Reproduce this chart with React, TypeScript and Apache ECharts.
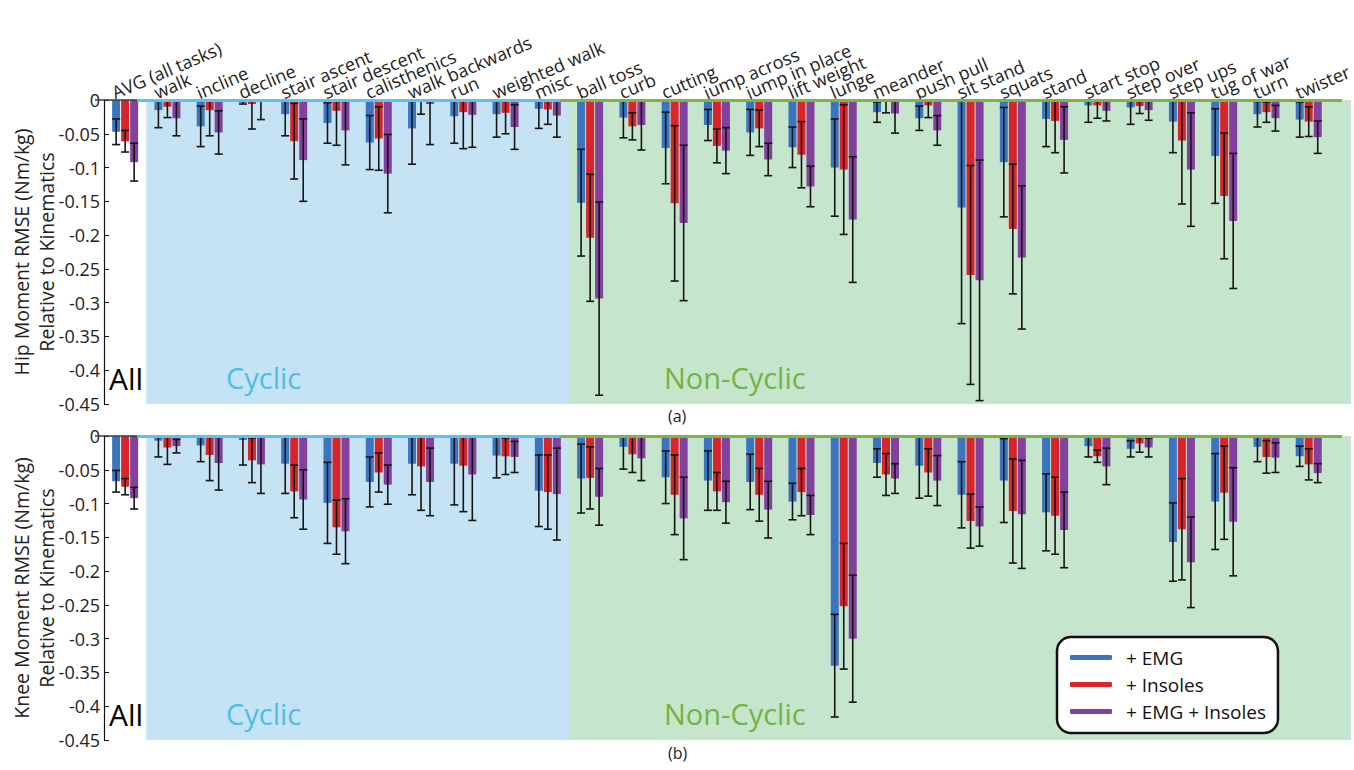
import React, { useEffect, useRef } from "react";
import * as echarts from "echarts";

const categories = [
  "AVG (all tasks)", "walk", "incline", "decline", "stair ascent", "stair descent",
  "calisthenics", "walk backwards", "run", "weighted walk", "misc",
  "ball toss", "curb", "cutting", "jump across", "jump in place", "lift weight",
  "lunge", "meander", "push pull", "sit stand", "squats", "stand", "start stop",
  "step over", "step ups", "tug of war", "turn", "twister",
];

const seriesNames = ["+ EMG", "+ Insoles", "+ EMG + Insoles"];

// Hip panel (a)
const hipEmgMean = [-0.047, -0.015, -0.039, -0.004, -0.021, -0.034, -0.063, -0.042, -0.024, -0.021, -0.013, -0.152, -0.026, -0.071, -0.037, -0.048, -0.070, -0.100, -0.018, -0.027, -0.159, -0.092, -0.028, -0.008, -0.011, -0.032, -0.083, -0.021, -0.029];
const hipEmgSd = [0.019, 0.026, 0.030, 0.002, 0.032, 0.030, 0.040, 0.053, 0.040, 0.034, 0.029, 0.079, 0.030, 0.053, 0.023, 0.034, 0.030, 0.072, 0.015, 0.018, 0.172, 0.081, 0.041, 0.025, 0.025, 0.046, 0.070, 0.019, 0.026];
const hipInsMean = [-0.061, -0.010, -0.015, -0.006, -0.061, -0.016, -0.057, -0.002, -0.018, -0.019, -0.014, -0.204, -0.039, -0.153, -0.068, -0.042, -0.081, -0.103, -0.002, -0.008, -0.259, -0.191, -0.031, -0.008, -0.009, -0.060, -0.142, -0.018, -0.032];
const hipInsSd = [0.016, 0.016, 0.038, 0.037, 0.056, 0.051, 0.047, 0.019, 0.054, 0.031, 0.022, 0.094, 0.020, 0.115, 0.025, 0.027, 0.049, 0.096, 0.017, 0.018, 0.162, 0.096, 0.047, 0.019, 0.011, 0.094, 0.093, 0.015, 0.022];
const hipBothMean = [-0.092, -0.027, -0.048, -0.001, -0.089, -0.045, -0.109, -0.006, -0.022, -0.040, -0.023, -0.294, -0.037, -0.182, -0.075, -0.088, -0.128, -0.177, -0.020, -0.045, -0.267, -0.233, -0.059, -0.016, -0.015, -0.103, -0.179, -0.027, -0.055];
const hipBothSd = [0.028, 0.026, 0.032, 0.028, 0.061, 0.051, 0.058, 0.060, 0.048, 0.033, 0.032, 0.143, 0.037, 0.115, 0.034, 0.024, 0.030, 0.093, 0.029, 0.022, 0.178, 0.106, 0.049, 0.015, 0.015, 0.084, 0.100, 0.019, 0.024];

// Knee panel (b)
const kneeEmgMean = [-0.067, -0.007, -0.014, -0.006, -0.041, -0.099, -0.068, -0.041, -0.041, -0.029, -0.081, -0.063, -0.016, -0.061, -0.066, -0.068, -0.097, -0.340, -0.040, -0.044, -0.087, -0.066, -0.113, -0.015, -0.019, -0.157, -0.097, -0.016, -0.030];
const kneeEmgSd = [0.016, 0.024, 0.024, 0.037, 0.044, 0.060, 0.037, 0.046, 0.061, 0.033, 0.053, 0.051, 0.033, 0.039, 0.044, 0.041, 0.027, 0.076, 0.021, 0.048, 0.049, 0.062, 0.057, 0.016, 0.012, 0.058, 0.071, 0.022, 0.015];
const kneeInsMean = [-0.075, -0.017, -0.028, -0.036, -0.082, -0.135, -0.054, -0.045, -0.044, -0.030, -0.083, -0.062, -0.027, -0.087, -0.082, -0.087, -0.083, -0.252, -0.057, -0.054, -0.126, -0.111, -0.118, -0.030, -0.011, -0.138, -0.084, -0.031, -0.042];
const kneeInsSd = [0.012, 0.025, 0.038, 0.033, 0.039, 0.040, 0.029, 0.065, 0.068, 0.027, 0.055, 0.046, 0.027, 0.059, 0.028, 0.039, 0.035, 0.093, 0.031, 0.035, 0.040, 0.077, 0.057, 0.009, 0.013, 0.075, 0.069, 0.024, 0.023];
const kneeBothMean = [-0.092, -0.015, -0.040, -0.042, -0.094, -0.141, -0.072, -0.068, -0.057, -0.031, -0.086, -0.090, -0.033, -0.122, -0.098, -0.109, -0.117, -0.300, -0.063, -0.066, -0.134, -0.116, -0.139, -0.045, -0.017, -0.187, -0.127, -0.032, -0.055];
const kneeBothSd = [0.016, 0.010, 0.040, 0.043, 0.044, 0.048, 0.029, 0.050, 0.068, 0.023, 0.068, 0.042, 0.033, 0.061, 0.031, 0.042, 0.029, 0.094, 0.022, 0.037, 0.029, 0.080, 0.056, 0.027, 0.014, 0.067, 0.080, 0.022, 0.014];

const yTicks = { min: -0.45, max: 0, interval: 0.05 };

const COLORS = ["#3c75bf", "#d8252b", "#81419c"];
const FONT = "Open Sans";
const BAR_W = 8;
const BAR_STEP = 9;
const LABEL_SHIFT = 0.3; // rotated labels start slightly left of their category
const X_MIN = 0.5;
const X_MAX = 30;

const panels = [
  {
    means: [hipEmgMean, hipInsMean, hipBothMean],
    sds: [hipEmgSd, hipInsSd, hipBothSd],
    yName: "Hip Moment RMSE (Nm/kg)\nRelative to Kinematics",
    top: 100,
    showLabels: true,
  },
  {
    means: [kneeEmgMean, kneeInsMean, kneeBothMean],
    sds: [kneeEmgSd, kneeInsSd, kneeBothSd],
    yName: "Knee Moment RMSE (Nm/kg)\nRelative to Kinematics",
    top: 436,
    showLabels: false,
  },
];

function makeErrRender(offset: number) {
  return (params: any, api: any) => {
    const x = api.value(0);
    const m = api.value(1);
    const s = api.value(2);
    const px = api.coord([x, m])[0] + offset;
    const hi = Math.min(0, m + s);
    const yHi = api.coord([x, hi])[1];
    const yLo = api.coord([x, m - s])[1];
    const st = { stroke: "#151515", lineWidth: 1.6 };
    const children: any[] = [
      { type: "line", shape: { x1: px, y1: yHi, x2: px, y2: yLo }, style: st },
      { type: "line", shape: { x1: px - 4, y1: yLo, x2: px + 4, y2: yLo }, style: st },
    ];
    if (m + s < 0) {
      children.push({ type: "line", shape: { x1: px - 4, y1: yHi, x2: px + 4, y2: yHi }, style: st });
    }
    return { type: "group", children };
  };
}

function buildOption() {
  const grid: any[] = [];
  const xAxis: any[] = [];
  const yAxis: any[] = [];
  const series: any[] = [];
  const graphic: any[] = [];
  const xPositions = categories.map((_, i) => i + 1);
  const labelPositions = xPositions.map((x) => x - LABEL_SHIFT);
  // empty end labels: ECharts' min/max-label culling then only touches these blanks
  const labelValues = [X_MIN, ...labelPositions, X_MAX];
  const labelText = (v: number) => {
    const idx = labelPositions.findIndex((p) => Math.abs(p - v) < 1e-6);
    return idx >= 0 ? categories[idx] : "";
  };

  panels.forEach((p, k) => {
    grid.push({
      left: 104,
      top: p.top,
      width: 1247,
      height: 304,
      containLabel: false,
      outerBoundsMode: "none",
    });
    xAxis.push({
      type: "value",
      gridIndex: k,
      position: "top",
      min: X_MIN,
      max: X_MAX,
      axisLine: { show: false },
      axisTick: { show: false },
      splitLine: { show: false },
      axisLabel: {
        show: p.showLabels,
        customValues: labelValues,
        formatter: labelText,
        rotate: 23,
        fontSize: 18,
        color: "#222",
        fontFamily: FONT,
        margin: 7,
        showMinLabel: false,
        showMaxLabel: false,
        hideOverlap: false,
      },
    });
    yAxis.push({
      type: "value",
      gridIndex: k,
      min: yTicks.min,
      max: yTicks.max,
      interval: yTicks.interval,
      axisLine: { show: true, lineStyle: { color: "#111", width: 1.2 } },
      axisTick: { show: true, inside: true, length: 5, lineStyle: { color: "#111" } },
      splitLine: { show: false },
      axisLabel: { fontSize: 18, color: "#222", fontFamily: FONT, margin: 4 },
      name: p.yName,
      nameLocation: "middle",
      nameRotate: 90,
      nameGap: 45,
      nameMoveOverlap: false,
      nameTextStyle: { fontSize: 19.5, color: "#222", fontFamily: FONT, lineHeight: 25 },
    });

    p.means.forEach((arr, j) => {
      const bar: any = {
        type: "bar",
        name: seriesNames[j],
        xAxisIndex: k,
        yAxisIndex: k,
        data: arr.map((v, i) => [xPositions[i], v]),
        barWidth: BAR_W,
        barGap: "12.5%",
        itemStyle: { color: COLORS[j] },
        z: 2,
        silent: true,
      };
      if (j === 0) {
        bar.markArea = {
          silent: true,
          data: [
            [{ xAxis: 1.5, itemStyle: { color: "#c5e3f4" } }, { xAxis: 11.5 }],
            [{ xAxis: 11.5, itemStyle: { color: "#c5e5cd" } }, { xAxis: X_MAX }],
          ],
        };
        bar.markLine = {
          silent: true,
          symbol: ["none", "none"],
          label: { show: false },
          data: [
            [{ coord: [X_MIN, 0], lineStyle: { color: "#3a3a3a", width: 1.5, type: "solid" } }, { coord: [1.5, 0] }],
            [{ coord: [1.5, 0], lineStyle: { color: "#5bc1ee", width: 3, type: "solid" } }, { coord: [11.5, 0] }],
            [{ coord: [11.5, 0], lineStyle: { color: "#7ab547", width: 3, type: "solid" } }, { coord: [X_MAX, 0] }],
          ],
        };
      }
      series.push(bar);
    });
    p.means.forEach((arr, j) => {
      series.push({
        type: "custom",
        name: `err-${k}-${j}`,
        xAxisIndex: k,
        yAxisIndex: k,
        data: arr.map((v, i) => [xPositions[i], v, p.sds[j][i]]),
        encode: { x: 0, y: 1 },
        renderItem: makeErrRender((j - 1) * BAR_STEP),
        z: 4,
        silent: true,
      });
    });

    const textTop = p.top + 263;
    graphic.push(
      { type: "text", z: 50, left: 109, top: textTop, style: { text: "All", fontSize: 30, fill: "#000", fontFamily: FONT } },
      { type: "text", z: 50, left: 226, top: textTop, style: { text: "Cyclic", fontSize: 29, fill: "#4dbdec", fontFamily: FONT } },
      { type: "text", z: 50, left: 664, top: textTop, style: { text: "Non-Cyclic", fontSize: 29, fill: "#74b443", fontFamily: FONT } }
    );
  });

  graphic.push(
    { type: "text", z: 50, left: 668, top: 408, style: { text: "(a)", fontSize: 16, fill: "#222", fontFamily: FONT } },
    { type: "text", z: 50, left: 668, top: 745, style: { text: "(b)", fontSize: 16, fill: "#222", fontFamily: FONT } }
  );

  return {
    animation: false,
    backgroundColor: "#fff",
    textStyle: { fontFamily: FONT },
    grid,
    xAxis,
    yAxis,
    series,
    graphic,
    legend: {
      data: seriesNames,
      orient: "vertical",
      left: 1057,
      top: 637,
      selectedMode: false,
      icon: "roundRect",
      itemWidth: 42,
      itemHeight: 5,
      itemGap: 8,
      padding: [11, 12, 12, 13],
      backgroundColor: "#fff",
      borderColor: "#111",
      borderWidth: 2.5,
      borderRadius: 14,
      textStyle: { fontSize: 19, color: "#111", fontFamily: FONT, padding: [0, 0, 0, 9] },
    },
  };
}

export default function App() {
  const ref = useRef<HTMLDivElement>(null);
  useEffect(() => {
    document.body.style.margin = "0";
    const chart = echarts.init(ref.current!, null, { renderer: "svg" });
    chart.setOption(buildOption() as any);
    return () => chart.dispose();
  }, []);
  return <div ref={ref} style={{ width: 1354, height: 770 }} />;
}
